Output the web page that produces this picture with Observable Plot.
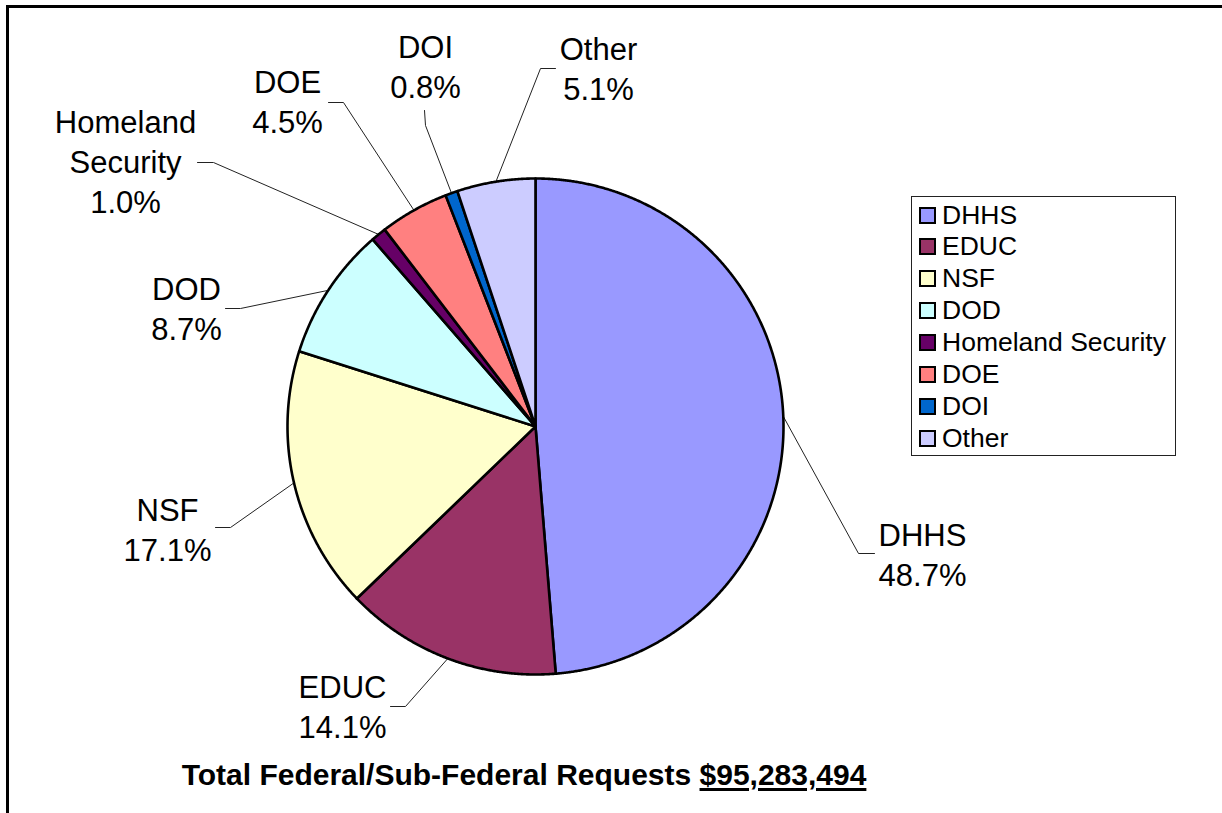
<!DOCTYPE html>
<html>
<head>
<meta charset="utf-8">
<script src="https://cdn.jsdelivr.net/npm/d3@7"></script>
<script src="https://cdn.jsdelivr.net/npm/@observablehq/plot@0.6"></script>
<style>
  html, body { margin: 0; padding: 0; background: #fff; overflow: hidden; }
  body { position: relative; width: 1222px; height: 813px; font-family: "Liberation Sans", Arial, sans-serif; }
  #frame { position: absolute; left: 6px; top: 5px; width: 1400px; height: 1000px; border-top: 3px solid #000; border-left: 3px solid #000; pointer-events: none; }
  #chart svg { display: block; }
  #legend { position: absolute; left: 911px; top: 196px; width: 263px; height: 258px; border: 1px solid #222; background: #fff; }
  .item { position: absolute; left: 7px; height: 30px; display: flex; align-items: center; font-size: 26.5px; color: #000; white-space: nowrap; }
  .sw { width: 13px; height: 13px; border: 2px solid #000; margin-right: 6px; flex: none; }
  #caption { height: 40px; line-height: 40px; width: 1048px; text-align: center; font-weight: bold; font-size: 30px; color: #000; white-space: nowrap; }
  #caption u { text-decoration-thickness: 3px; text-underline-offset: 3px; }
</style>
</head>
<body>
<div id="chart"></div>
<div id="caption">Total Federal/Sub-Federal Requests <u>$95,283,494</u></div>
<div id="legend"></div>
<div id="frame"></div>
<script>
// ---- data ----
const categories = ["DHHS", "EDUC", "NSF", "DOD", "Homeland Security", "DOE", "DOI", "Other"];
const percents = [48.7, 14.1, 17.1, 8.7, 1.0, 4.5, 0.8, 5.1];
const labelLines = ["DHHS", "EDUC", "NSF", "DOD", "Homeland\nSecurity", "DOE", "DOI", "Other"];
const colors = ["#9999FF", "#993366", "#FFFFCC", "#CCFFFF", "#660066", "#FF8080", "#0066CC", "#CCCCFF"];

// ---- layout (pixels) ----
const W = 1222, H = 755;
const CX = 535, CY = 426, R = 248;
const labelPos = [[922, 553], [342, 705], [167, 528], [186, 307], [125, 160], [287, 100], [425, 65], [598, 67]];
const elbowPos = [[858, 553], [405, 706], [230, 527], [240, 308], [213, 162], [343, 102], [425, 125], [540, 68]];
const tailPos  = [[874, 553], [390, 706], [215, 527], [225, 308], [197, 162], [328, 102], [424, 110], [555, 68]];

const arcs = d3.pie().sort(null).value(d => d)(percents);

const slicePts = [];
arcs.forEach((a, i) => {
  const key = categories[i];
  slicePts.push({key, x: CX, y: CY});
  const n = Math.max(4, Math.ceil((a.endAngle - a.startAngle) / (Math.PI / 720)));
  for (let k = 0; k <= n; k++) {
    const t = a.startAngle + (a.endAngle - a.startAngle) * k / n;
    slicePts.push({key, x: CX + R * Math.sin(t), y: CY - R * Math.cos(t)});
  }
});

const leaderPts = [];
arcs.forEach((a, i) => {
  const key = categories[i];
  const m = (a.startAngle + a.endAngle) / 2;
  leaderPts.push({key, x: CX + R * Math.sin(m), y: CY - R * Math.cos(m)});
  leaderPts.push({key, x: elbowPos[i][0], y: elbowPos[i][1]});
  leaderPts.push({key, x: tailPos[i][0], y: tailPos[i][1]});
});

const labels = categories.map((c, i) => ({
  key: c,
  x: labelPos[i][0],
  y: labelPos[i][1],
  text: labelLines[i] + "\n" + percents[i].toFixed(1) + "%"
}));

const chart = Plot.plot({
  width: W,
  height: H,
  margin: 0,
  style: {background: "transparent", fontFamily: "'Liberation Sans', Arial, sans-serif"},
  x: {domain: [0, W], range: [0, W], axis: null},
  y: {domain: [0, H], range: [0, H], axis: null},
  color: {domain: categories, range: colors},
  marks: [
    Plot.line(leaderPts, {x: "x", y: "y", z: "key", stroke: "#222", strokeWidth: 1}),
    Plot.line(slicePts, {x: "x", y: "y", z: "key", fill: "key", stroke: "#000", strokeWidth: 2.6, curve: "linear-closed", strokeLinejoin: "round"}),
    Plot.text(labels, {x: "x", y: "y", text: "text", fontSize: 31, lineHeight: 1.29, fill: "#000", textAnchor: "middle", fontFamily: "'Liberation Sans', Arial, sans-serif"})
  ]
});
document.getElementById("chart").appendChild(chart);

// legend built from the same arrays
const legend = document.getElementById("legend");
categories.forEach((c, i) => {
  const it = document.createElement("div");
  it.className = "item";
  it.style.top = (3 + i * 31.9) + "px";
  const sw = document.createElement("span");
  sw.className = "sw";
  sw.style.background = colors[i];
  it.appendChild(sw);
  it.appendChild(document.createTextNode(c));
  legend.appendChild(it);
});
</script>
</body>
</html>
